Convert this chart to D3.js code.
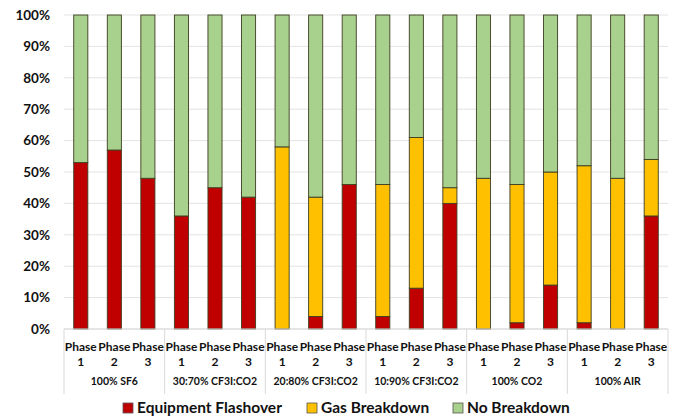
<!DOCTYPE html>
<html>
<head>
<meta charset="utf-8">
<script src="https://cdn.jsdelivr.net/npm/d3@7"></script>
<style>
  body { margin: 0; background: #fff; }
  text { font-family: Lato, "Open Sans", sans-serif; font-weight: bold; fill: #111; }
</style>
</head>
<body>
<div id="chart"></div>
<script>
// data
const groups = ['100% SF6', '30:70% CF3I:CO2', '20:80% CF3I:CO2', '10:90% CF3I:CO2', '100% CO2', '100% AIR'];
const phases = ['1', '2', '3'];
const seriesNames = ['Equipment Flashover', 'Gas Breakdown', 'No Breakdown'];
// per bar, in group order then phase order (percent)
const flashover = [53, 57, 48, 36, 45, 42, 0, 4, 46, 4, 13, 40, 0, 2, 14, 2, 0, 36];
const gasBreakdown = [0, 0, 0, 0, 0, 0, 58, 38, 0, 42, 48, 5, 48, 44, 36, 50, 48, 18];
const noBreakdown = flashover.map((f, i) => 100 - f - gasBreakdown[i]);
const yTicks = [0, 10, 20, 30, 40, 50, 60, 70, 80, 90, 100];
const colors = ['#c00000', '#ffc000', '#a9d18e'];

const rawWidth = 678, rawHeight = 418;
const margin = { left: 64, right: 10, top: 15, bot: 89 };
const width = rawWidth - margin.left - margin.right;
const height = rawHeight - margin.top - margin.bot;

const svg = d3.select('#chart').append('svg')
    .attr('width', rawWidth)
    .attr('height', rawHeight);

const g = svg.append('g')
    .attr('transform', `translate(${margin.left},${margin.top})`);

const bars = [];
groups.forEach((grp, gi) => {
    phases.forEach((ph, pi) => {
        const i = gi * 3 + pi;
        bars.push({ key: grp + '|' + ph, group: grp, phase: ph, vals: [flashover[i], gasBreakdown[i], noBreakdown[i]] });
    });
});

const x = d3.scaleBand()
    .domain(bars.map(d => d.key))
    .range([0, width])
    .paddingInner(0.58)
    .paddingOuter(0.29);

const xGroup = d3.scaleBand()
    .domain(groups)
    .range([0, width]);

const y = d3.scaleLinear()
    .domain([0, 100])
    .range([height, 0]);

// grid
g.append('g')
    .selectAll('line')
    .data(yTicks)
    .join('line')
    .attr('x1', 0)
    .attr('x2', width)
    .attr('y1', d => y(d))
    .attr('y2', d => y(d))
    .attr('stroke', '#e3e3e3')
    .attr('stroke-width', 1);

// y axis labels
const yAxis = g.append('g')
    .call(d3.axisLeft(y).tickValues(yTicks).tickFormat(d => d + '%').tickSize(0).tickPadding(14));
yAxis.select('.domain').remove();
yAxis.selectAll('text')
    .style('font-size', '13.5px')
    .style('font-family', 'Lato, sans-serif')
    .style('font-weight', 'bold')
    .attr('fill', '#111');

// stacked bars
const stack = bars.map(d => {
    let acc = 0;
    return d.vals.map((v, si) => {
        const seg = { key: d.key, si, y0: acc, y1: acc + v };
        acc += v;
        return seg;
    });
}).flat().filter(s => s.y1 > s.y0);

g.append('g')
    .selectAll('rect')
    .data(stack)
    .join('rect')
    .attr('x', d => x(d.key))
    .attr('width', x.bandwidth())
    .attr('y', d => y(d.y1))
    .attr('height', d => y(d.y0) - y(d.y1))
    .attr('fill', d => colors[d.si])
    .attr('stroke', '#3d3d20')
    .attr('stroke-width', 0.9);

// category axis
const axisG = g.append('g').attr('transform', `translate(0,${height})`);
axisG.append('line')
    .attr('x1', 0).attr('x2', width)
    .attr('y1', 0).attr('y2', 0)
    .attr('stroke', '#d9d9d9');
axisG.selectAll('line.sep')
    .data(d3.range(groups.length + 1))
    .join('line')
    .attr('class', 'sep')
    .attr('x1', i => i * xGroup.step())
    .attr('x2', i => i * xGroup.step())
    .attr('y1', 0)
    .attr('y2', 65)
    .attr('stroke', '#d9d9d9');

const phaseLbl = axisG.selectAll('g.ph')
    .data(bars)
    .join('g')
    .attr('class', 'ph')
    .attr('transform', d => `translate(${x(d.key) + x.bandwidth() / 2},0)`);
phaseLbl.append('text')
    .attr('y', 22)
    .attr('text-anchor', 'middle')
    .style('font-size', '12px')
    .text('Phase');
phaseLbl.append('text')
    .attr('y', 37)
    .attr('text-anchor', 'middle')
    .style('font-size', '12px')
    .text(d => d.phase);

axisG.selectAll('text.grp')
    .data(groups)
    .join('text')
    .attr('class', 'grp')
    .attr('x', d => xGroup(d) + xGroup.bandwidth() / 2)
    .attr('y', 56)
    .attr('text-anchor', 'middle')
    .style('font-size', '10.5px')
    .text(d => d);

// legend
const legendX = [123, 307, 453];
const legend = svg.append('g').attr('transform', `translate(0,${rawHeight - 5})`);
const item = legend.selectAll('g')
    .data(seriesNames)
    .join('g')
    .attr('transform', (d, i) => `translate(${legendX[i]},0)`);
item.append('rect')
    .attr('x', 0).attr('y', -10)
    .attr('width', 10).attr('height', 10)
    .attr('fill', (d, i) => colors[i])
    .attr('stroke', '#555')
    .attr('stroke-width', 0.8);
item.append('text')
    .attr('x', 14)
    .attr('y', 0)
    .style('font-size', '15.5px')
    .text(d => d);
</script>
</body>
</html>
